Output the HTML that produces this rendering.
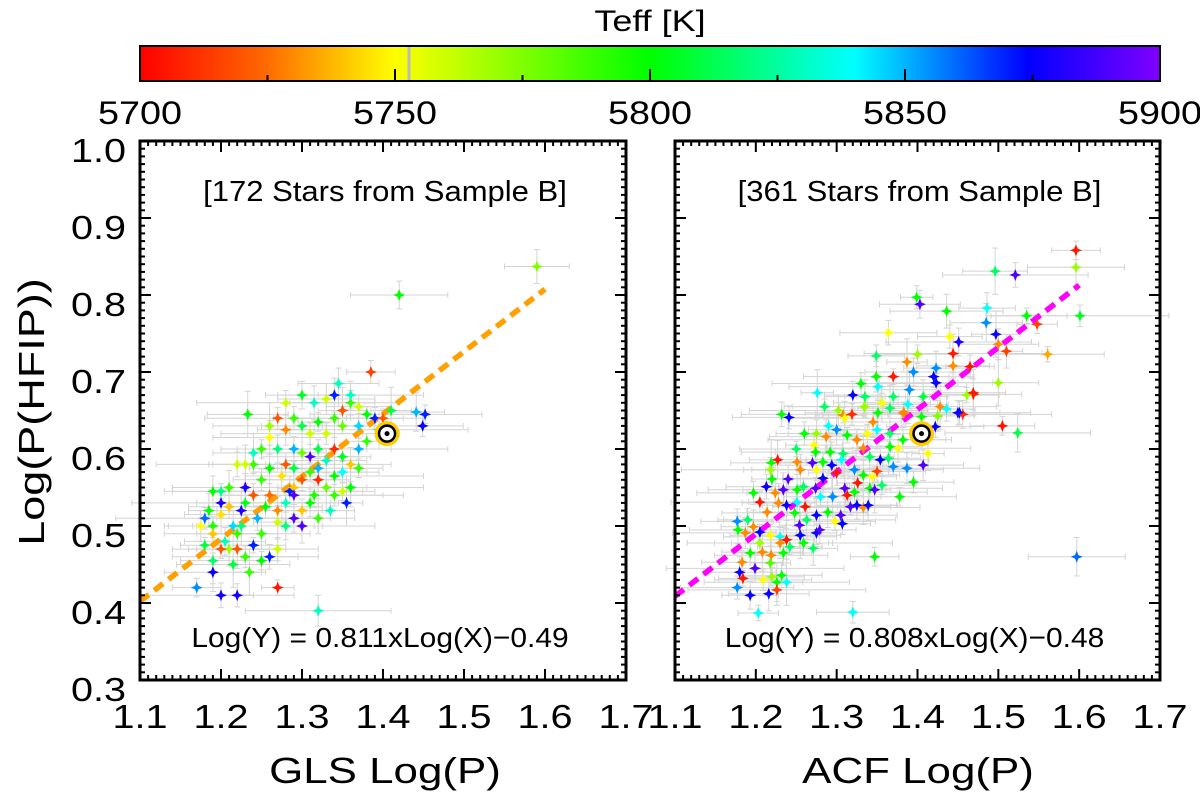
<!DOCTYPE html>
<html><head><meta charset="utf-8"><style>
html,body{margin:0;padding:0;background:#fff;}
svg{display:block;font-family:"Liberation Sans",sans-serif;}
</style></head><body>
<svg id="chart" width="1200" height="798" viewBox="0 0 1200 798" xmlns="http://www.w3.org/2000/svg">
<defs>
<linearGradient id="cbar" x1="0" x2="1" y1="0" y2="0">
<stop offset="0" stop-color="#ff0000"/><stop offset="0.12" stop-color="#ff6600"/><stop offset="0.25" stop-color="#ffff00"/>
<stop offset="0.5" stop-color="#00ff00"/><stop offset="0.7" stop-color="#00ffff"/><stop offset="0.87" stop-color="#0000ff"/>
<stop offset="1" stop-color="#8000ff"/></linearGradient>
</defs>
<g>
<text id="cbtitle" x="650" y="31" font-size="30" text-anchor="middle">Teff [K]</text>
<rect x="140" y="46" width="1020" height="35" fill="url(#cbar)" stroke="#000" stroke-width="2"/>
<line x1="409" x2="409" y1="47" y2="80" stroke="#bbb" stroke-width="3"/>
<g id="cbticks"></g>
</g>
<g id="plots"></g>
<text id="ytitle" transform="translate(44,412) rotate(-90) scale(1.25,1)" font-size="36" text-anchor="middle">Log(P(HFIP))</text>
<text id="xt1" x="385" y="783" font-size="36" text-anchor="middle">GLS Log(P)</text>
<text id="xt2" x="918" y="783" font-size="36" text-anchor="middle">ACF Log(P)</text>
</svg>
<script>
const xTicks = [1.1,1.2,1.3,1.4,1.5,1.6,1.7];
const yTicks = [0.3,0.4,0.5,0.6,0.7,0.8,0.9,1.0];
const cbTicks = [5700,5750,5800,5850,5900];
const glsFit = [0.811,-0.49];
const acfFit = [0.808,-0.48];
const sun = [1.405,0.62];
const errX = [0.03,0.06,0.04,0.09,0.02,0.05,0.07,0.035,0.05,0.11,0.025,0.045];
const errY = [0.012,0.02,0.015,0.025,0.01,0.018,0.03,0.014,0.022,0.016];
const glsPoints = [
[1.17,0.42,5855],[1.19,0.44,5875],[1.19,0.455,5815],[1.20,0.41,5878],[1.22,0.41,5878],[1.205,0.48,5830],[1.21,0.47,5770],[1.215,0.50,5845],[1.22,0.49,5790],[1.18,0.51,5860],
[1.19,0.50,5795],[1.20,0.515,5745],[1.225,0.52,5880],[1.23,0.53,5805],[1.24,0.54,5720],[1.23,0.55,5880],[1.21,0.55,5790],[1.19,0.545,5800],[1.20,0.545,5820],[1.25,0.56,5790],
[1.24,0.58,5790],[1.23,0.58,5760],[1.26,0.575,5800],[1.275,0.565,5745],[1.26,0.54,5725],[1.27,0.52,5730],[1.28,0.53,5830],[1.285,0.545,5870],[1.29,0.55,5740],[1.30,0.56,5720],
[1.31,0.57,5790],[1.32,0.56,5710],[1.33,0.55,5780],[1.315,0.54,5795],[1.30,0.52,5740],[1.29,0.51,5890],[1.27,0.505,5760],[1.25,0.49,5790],[1.24,0.475,5870],[1.23,0.46,5790],
[1.25,0.455,5800],[1.22,0.47,5720],[1.215,0.45,5810],[1.26,0.46,5870],[1.27,0.47,5760],[1.28,0.50,5820],[1.30,0.50,5890],[1.32,0.51,5790],[1.335,0.52,5830],[1.34,0.54,5790],
[1.35,0.545,5760],[1.36,0.55,5800],[1.355,0.53,5870],[1.33,0.585,5830],[1.34,0.60,5710],[1.35,0.59,5805],[1.36,0.58,5740],[1.37,0.60,5850],[1.38,0.61,5790],[1.33,0.62,5760],
[1.32,0.60,5810],[1.31,0.59,5890],[1.30,0.595,5780],[1.29,0.60,5850],[1.28,0.58,5720],[1.27,0.60,5820],[1.26,0.615,5750],[1.28,0.625,5730],[1.30,0.63,5810],[1.31,0.62,5760],
[1.32,0.635,5800],[1.34,0.64,5790],[1.35,0.65,5720],[1.36,0.66,5790],[1.37,0.655,5760],[1.36,0.67,5830],[1.34,0.67,5870],[1.345,0.685,5830],[1.38,0.645,5800],[1.39,0.64,5870],
[1.40,0.64,5720],[1.395,0.625,5790],[1.41,0.65,5810],[1.37,0.63,5845],[1.385,0.70,5715],[1.42,0.80,5800],[1.59,0.837,5775],[1.32,0.39,5830],[1.27,0.42,5705],[1.449,0.63,5875],
[1.452,0.645,5870],[1.441,0.648,5850],[1.233,0.645,5800],[1.28,0.66,5760],[1.29,0.64,5790],[1.30,0.67,5805],[1.315,0.66,5830],[1.33,0.665,5760],[1.35,0.63,5780],[1.27,0.64,5720],
[1.25,0.60,5790],[1.24,0.595,5830],[1.26,0.63,5770],[1.22,0.58,5760],[1.21,0.525,5740],[1.20,0.53,5880],[1.185,0.52,5800],[1.175,0.50,5750],[1.18,0.475,5810],[1.19,0.49,5740],
[1.20,0.47,5720],[1.225,0.50,5820],[1.235,0.44,5790],[1.245,0.51,5850],[1.255,0.525,5800],[1.31,0.53,5800],[1.32,0.575,5850],[1.34,0.565,5800],[1.29,0.575,5810],[1.35,0.57,5840],
[1.37,0.575,5790],[1.29,0.54,5890]];
const acfPoints = [
[1.596,0.858,5705],[1.596,0.836,5770],[1.496,0.831,5815],[1.521,0.826,5890],[1.399,0.797,5800],[1.403,0.788,5890],[1.436,0.779,5800],[1.486,0.783,5840],[1.535,0.773,5800],[1.601,0.773,5805],
[1.548,0.762,5715],[1.485,0.764,5855],[1.497,0.749,5875],[1.364,0.751,5750],[1.44,0.746,5750],[1.451,0.739,5880],[1.51,0.727,5715],[1.50,0.736,5730],[1.561,0.723,5735],[1.349,0.721,5815],
[1.40,0.723,5770],[1.444,0.724,5705],[1.387,0.713,5730],[1.444,0.708,5730],[1.465,0.707,5705],[1.395,0.70,5855],[1.423,0.705,5855],[1.349,0.694,5800],[1.37,0.694,5705],[1.42,0.694,5875],
[1.423,0.686,5875],[1.39,0.677,5855],[1.50,0.686,5770],[1.351,0.681,5840],[1.335,0.668,5815],[1.37,0.668,5815],[1.407,0.668,5810],[1.469,0.671,5705],[1.461,0.67,5770],[1.335,0.655,5765],
[1.356,0.66,5800],[1.388,0.658,5840],[1.428,0.655,5730],[1.436,0.652,5840],[1.452,0.647,5875],[1.456,0.645,5710],[1.405,0.642,5800],[1.425,0.643,5775],[1.383,0.648,5730],[1.422,0.629,5875],
[1.505,0.63,5705],[1.524,0.621,5810],[1.276,0.673,5840],[1.232,0.645,5800],[1.241,0.641,5875],[1.32,0.67,5875],[1.335,0.668,5815],[1.302,0.65,5770],[1.308,0.644,5730],[1.319,0.645,5710],
[1.334,0.655,5770],[1.356,0.66,5750],[1.366,0.653,5815],[1.351,0.647,5800],[1.383,0.646,5730],[1.275,0.62,5770],[1.287,0.616,5730],[1.30,0.625,5855],[1.313,0.618,5800],[1.325,0.612,5730],
[1.338,0.62,5750],[1.35,0.625,5840],[1.366,0.62,5815],[1.382,0.612,5800],[1.366,0.603,5800],[1.376,0.601,5750],[1.413,0.594,5750],[1.407,0.579,5890],[1.25,0.60,5815],[1.272,0.605,5750],
[1.274,0.596,5800],[1.292,0.596,5800],[1.308,0.594,5815],[1.333,0.601,5730],[1.341,0.59,5815],[1.354,0.586,5875],[1.364,0.588,5815],[1.387,0.575,5855],[1.37,0.577,5855],[1.395,0.557,5800],
[1.378,0.538,5800],[1.227,0.586,5705],[1.219,0.582,5800],[1.218,0.573,5770],[1.22,0.561,5800],[1.24,0.561,5890],[1.251,0.583,5730],[1.255,0.573,5730],[1.27,0.582,5890],[1.275,0.573,5750],
[1.283,0.583,5800],[1.283,0.562,5875],[1.294,0.579,5875],[1.30,0.569,5705],[1.306,0.586,5840],[1.322,0.573,5855],[1.326,0.556,5705],[1.333,0.566,5800],[1.344,0.564,5750],[1.35,0.571,5715],
[1.356,0.553,5815],[1.341,0.549,5800],[1.347,0.547,5890],[1.213,0.551,5875],[1.197,0.543,5800],[1.224,0.543,5730],[1.234,0.547,5890],[1.251,0.547,5800],[1.259,0.551,5815],[1.274,0.549,5890],
[1.28,0.538,5840],[1.295,0.538,5855],[1.31,0.549,5890],[1.322,0.544,5800],[1.313,0.54,5705],[1.325,0.527,5875],[1.333,0.524,5730],[1.339,0.527,5875],[1.317,0.525,5890],[1.205,0.531,5705],
[1.214,0.518,5730],[1.228,0.53,5730],[1.238,0.527,5875],[1.251,0.531,5840],[1.261,0.525,5705],[1.248,0.517,5800],[1.275,0.514,5875],[1.289,0.518,5800],[1.305,0.514,5890],[1.307,0.503,5875],
[1.298,0.506,5750],[1.263,0.508,5815],[1.254,0.501,5890],[1.177,0.506,5855],[1.19,0.508,5815],[1.178,0.495,5800],[1.197,0.499,5730],[1.187,0.491,5730],[1.205,0.492,5875],[1.218,0.488,5750],
[1.23,0.486,5840],[1.238,0.482,5705],[1.255,0.488,5875],[1.259,0.478,5800],[1.275,0.491,5875],[1.279,0.495,5890],[1.271,0.471,5815],[1.23,0.478,5730],[1.242,0.473,5815],[1.205,0.478,5770],
[1.193,0.465,5800],[1.208,0.466,5730],[1.219,0.462,5730],[1.234,0.465,5800],[1.183,0.453,5730],[1.199,0.445,5890],[1.218,0.452,5785],[1.18,0.44,5875],[1.184,0.432,5705],[1.209,0.43,5750],
[1.22,0.434,5770],[1.226,0.427,5800],[1.238,0.427,5840],[1.232,0.436,5800],[1.177,0.42,5855],[1.193,0.41,5875],[1.216,0.412,5875],[1.226,0.417,5715],[1.203,0.387,5840],[1.32,0.388,5840],
[1.347,0.46,5800],[1.597,0.46,5860],[1.469,0.673,5705],[1.45,0.647,5875],[1.26,0.62,5800],[1.29,0.63,5840],[1.31,0.64,5750],[1.345,0.635,5730],[1.285,0.655,5815],[1.33,0.685,5800]];

const NS='http://www.w3.org/2000/svg';
const plots=document.getElementById('plots');
const Y0=141, Y1=680;
function yPix(v){return Y0+(1.0-v)*(Y1-Y0)/0.7;}
function mk(tag,attrs,parent){const e=document.createElementNS(NS,tag);for(const k in attrs)e.setAttribute(k,attrs[k]);(parent||plots).appendChild(e);return e;}
function hs(el,sx){const x=el.getAttribute('x'),y=el.getAttribute('y');el.setAttribute('x',0);el.setAttribute('y',0);el.setAttribute('transform',`translate(${x},${y}) scale(${sx},1)`);}
hs(document.getElementById('cbtitle'),1.2);
hs(document.getElementById('xt1'),1.22);
hs(document.getElementById('xt2'),1.22);
function lerp(a,b,t){return a+(b-a)*t;}
const cstops=[[0,[255,0,0]],[0.12,[255,102,0]],[0.25,[255,255,0]],[0.5,[0,255,0]],[0.7,[0,255,255]],[0.87,[0,0,255]],[1,[128,0,255]]];
function tcolor(T){let t=Math.max(0,Math.min(1,(T-5700)/200));for(let i=1;i<cstops.length;i++){if(t<=cstops[i][0]){const a=cstops[i-1],b=cstops[i];const f=(t-a[0])/(b[0]-a[0]);return 'rgb('+[0,1,2].map(j=>Math.round(lerp(a[1][j],b[1][j],f))).join(',')+')';}}return 'rgb(128,0,255)';}

const cbg=document.getElementById('cbticks');
function cbX(v){return 140+(v-5700)/200*1020;}
for(let v=5725;v<5900;v+=25){const major=(v%50===0);const l=mk('line',{x1:cbX(v),x2:cbX(v),y1:81,y2:major?69:75,stroke:'#000','stroke-width':2},cbg);

}
cbTicks.forEach(v=>{const t=mk('text',{x:cbX(v),y:124,'font-size':32,'text-anchor':'middle'},cbg);t.textContent=v;


hs(t,1.18);});

function panel(name,X0,X1,points,fit,fitColor,label,eqText,showY){
  const g=mk('g',{});
  
  
  const xPix=v=>X0+(v-1.1)*(X1-X0)/0.6;
  const eg=mk('g',{stroke:'#d4d4d4','stroke-width':1,fill:'none'},g);
  
  
  points.forEach((p,i)=>{const ex=errX[i%errX.length],ey=errY[(i*3)%errY.length];
    const cx=xPix(p[0]),cy=yPix(p[1]);const xa=xPix(p[0]-ex),xb=xPix(p[0]+ex),ya=yPix(p[1]+ey),yb=yPix(p[1]-ey);
    const pe=mk('path',{d:`M${xa},${cy}H${xb}M${xa},${cy-3}V${cy+3}M${xb},${cy-3}V${cy+3}M${cx},${ya}V${yb}M${cx-3},${ya}H${cx+3}M${cx-3},${yb}H${cx+3}`},eg);
    
    });
  const fl=mk('line',{x1:xPix(1.1),y1:yPix(fit[0]*1.1+fit[1]),x2:xPix(1.6),y2:yPix(fit[0]*1.6+fit[1]),stroke:fitColor,'stroke-width':5.5,'stroke-dasharray':'11 7'},g);
  
  
  points.forEach(p=>{const cx=xPix(p[0]),cy=yPix(p[1]);const r=6,q=1.7;
    const s=mk('path',{d:`M${cx},${cy-r}L${cx+q},${cy-q}L${cx+r},${cy}L${cx+q},${cy+q}L${cx},${cy+r}L${cx-q},${cy+q}L${cx-r},${cy}L${cx-q},${cy-q}Z`,fill:tcolor(p[2])},g);
    
    });
  const sx=xPix(sun[0]),sy=yPix(sun[1]);
  const sg=mk('g',{},g);
  
  
  mk('circle',{cx:sx,cy:sy,r:10.5,fill:'#fff',stroke:'#ffcc00','stroke-width':4},sg);
  mk('circle',{cx:sx,cy:sy,r:8,fill:'#fff',stroke:'#000','stroke-width':2.5},sg);
  mk('circle',{cx:sx,cy:sy,r:2.5,fill:'#000'},sg);
  const fr=mk('rect',{x:X0,y:Y0,width:X1-X0,height:Y1-Y0,fill:'none',stroke:'#000','stroke-width':3},g);
  
  
  const tg=mk('g',{stroke:'#000','stroke-width':2},g);
  
  
  for(let k=0;k<=60;k++){const v=1.1+k*0.01;const x=xPix(v);const L=(k%10===0)?11:5;
    mk('line',{x1:x,x2:x,y1:Y1,y2:Y1-L},tg);mk('line',{x1:x,x2:x,y1:Y0,y2:Y0+L},tg);}
  for(let k=0;k<=70;k++){const v=0.3+k*0.01;const y=yPix(v);const L=(k%10===0)?11:5;
    mk('line',{x1:X0,x2:X0+L,y1:y,y2:y},tg);mk('line',{x1:X1,x2:X1-L,y1:y,y2:y},tg);}
  xTicks.forEach(v=>{const t=mk('text',{x:xPix(v),y:728,'font-size':33,'text-anchor':'middle'},g);t.textContent=v.toFixed(1);
    
    
    hs(t,1.2);});
  if(showY) yTicks.forEach(v=>{const t=mk('text',{x:126,y:yPix(v)+21,'font-size':33,'text-anchor':'end'},g);t.textContent=v.toFixed(1);
    
    
    hs(t,1.2);});
  const lb=mk('text',{x:(X0+X1)/2+2,y:201,'font-size':29,'text-anchor':'middle'},g);lb.textContent=label;
  
  
  hs(lb,1.07);
  const eq=mk('text',{x:(X0+X1)/2-3,y:647,'font-size':28,'text-anchor':'middle'},g);eq.textContent=eqText;
  
  
  hs(eq,1.07);
}
panel('gls',140,626,glsPoints,glsFit,'#ffa000','[172 Stars from Sample B]','Log(Y) = 0.811xLog(X)\u22120.49',true);
panel('acf',675,1160,acfPoints,acfFit,'#ff00ff','[361 Stars from Sample B]','Log(Y) = 0.808xLog(X)\u22120.48',false);
</script>
</body></html>
